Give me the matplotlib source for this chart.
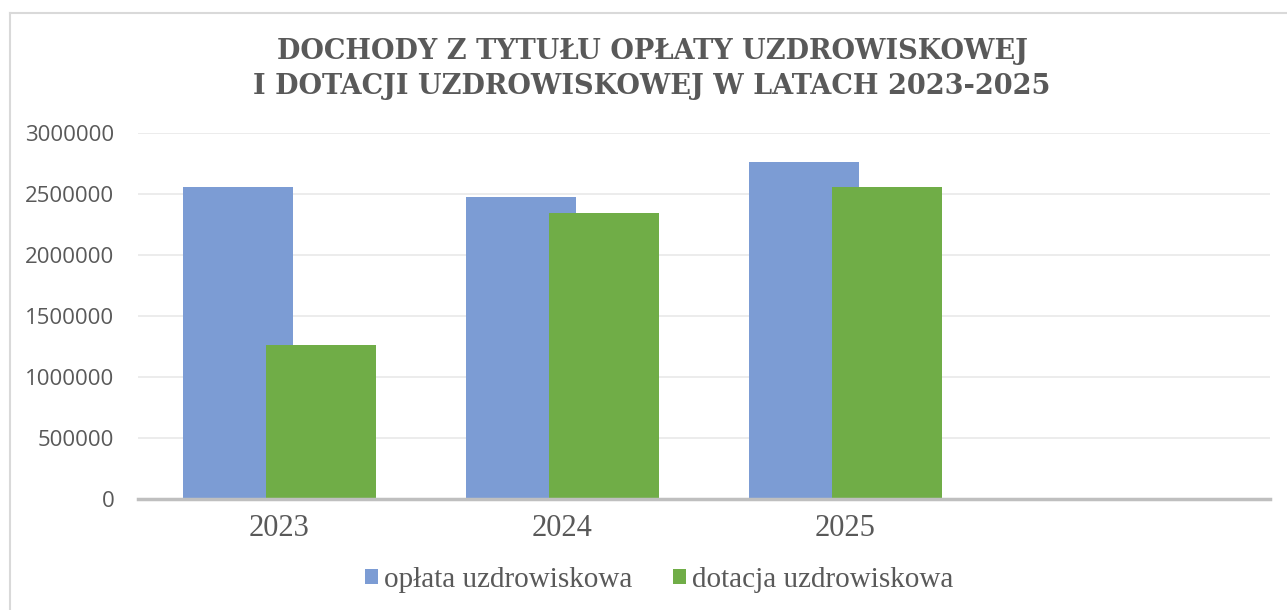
import matplotlib
matplotlib.use("Agg")
import matplotlib.pyplot as plt
from matplotlib.lines import Line2D
import numpy as np

categories = ["2023", "2024", "2025", ""]
oplata = [2560000, 2475000, 2765000, np.nan]
dotacja = [1262000, 2347000, 2560000, np.nan]
series_names = ["opłata uzdrowiskowa", "dotacja uzdrowiskowa"]
yticks = [0, 500000, 1000000, 1500000, 2000000, 2500000, 3000000]
title = "DOCHODY Z TYTUŁU OPŁATY UZDROWISKOWEJ\nI DOTACJI UZDROWISKOWEJ W LATACH 2023-2025"

W, H = 1287, 610
fig = plt.figure(figsize=(W / 100, H / 100), dpi=100)
ax = fig.add_axes([138 / W, 1 - 499 / H, 1132 / W, 366 / H])

blue = "#7C9CD4"
green = "#70AD47"
text_col = "#595959"

x = np.arange(len(categories))
bw = 110 / 283
off = 0.147
ax.bar(x - off, oplata, width=bw, color=blue, label=series_names[0], zorder=2)
ax.bar(x + off, dotacja, width=bw, color=green, label=series_names[1], zorder=3)

ax.set_xlim(-0.5, len(categories) - 0.5)
ax.set_ylim(0, 3000000)
ax.set_yticks(yticks)
ax.set_yticklabels([str(v) for v in yticks], fontfamily="Open Sans", fontsize=16, color=text_col)
ax.set_xticks(x)
ax.set_xticklabels(categories, fontfamily="Liberation Serif", fontsize=22, color=text_col)
ax.tick_params(axis="y", length=0, pad=17)
ax.tick_params(axis="x", length=0, pad=11)
ax.grid(axis="y", color="#EBEBEB", linewidth=1.3, zorder=0)
ax.set_axisbelow(True)
for s in ["top", "right", "left"]:
    ax.spines[s].set_visible(False)
ax.spines["bottom"].set_color("#BFBFBF")
ax.spines["bottom"].set_linewidth(2.5)
ax.spines["bottom"].set_zorder(4)

fig.text(652 / W, 1 - 69 / H, title, ha="center", va="center", fontfamily="DejaVu Serif",
         fontweight="bold", fontsize=19.5, color=text_col, linespacing=1.38)

leg = fig.legend(loc="center", bbox_to_anchor=(659 / W, 1 - 580 / H), ncol=2, frameon=False,
                 prop={"family": "Liberation Serif", "size": 21}, handlelength=0.45, handleheight=0.45,
                 handletextpad=0.2, columnspacing=1.4)
for t in leg.get_texts():
    t.set_color(text_col)

# chart area border
fig.add_artist(Line2D([10 / W, 10 / W], [0, 1 - 13 / H], transform=fig.transFigure, color="#D9D9D9", lw=1.5))
fig.add_artist(Line2D([10 / W, 1], [1 - 13 / H, 1 - 13 / H], transform=fig.transFigure, color="#D9D9D9", lw=1.5))

fig.savefig("out.png", dpi=100)
